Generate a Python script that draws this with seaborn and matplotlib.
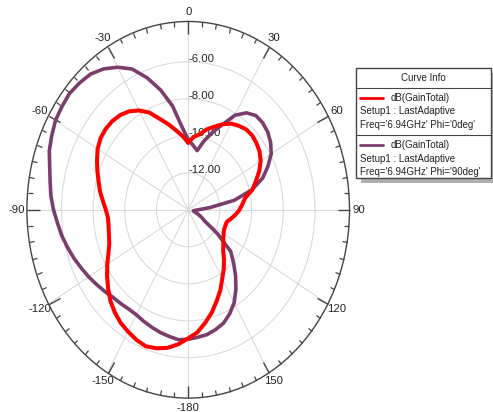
import numpy as np
import pandas as pd
import matplotlib
matplotlib.use("Agg")
import matplotlib.pyplot as plt
from matplotlib.ticker import FixedLocator
from matplotlib.patches import Rectangle
from matplotlib.lines import Line2D
import seaborn as sns

# ---------------- data ----------------
theta_deg = list(range(0, 360, 5))

gain_phi0 = [-10.37, -10.05, -9.85, -9.50, -9.22, -8.90, -8.62, -8.45, -8.32, -8.30,
             -8.38, -8.50, -8.72, -9.05, -9.45, -9.81, -10.35, -10.57, -10.76, -11.00,
             -11.25, -11.48, -11.50, -11.50, -11.42, -11.30, -11.10, -10.88, -10.48, -10.09,
             -9.70, -9.20, -8.75, -8.25, -7.80, -7.35, -7.05, -6.70, -6.42, -6.25,
             -6.15, -6.25, -6.40, -6.55, -6.78, -7.05, -7.40, -7.75, -8.10, -8.45,
             -8.70, -8.82, -8.90, -8.92, -8.80, -8.60, -8.35, -8.15, -7.90, -7.65,
             -7.40, -7.25, -7.20, -7.22, -7.32, -7.50, -7.80, -8.20, -8.77, -9.22,
             -9.65, -10.00]

gain_phi90 = [-10.20, -10.50, -10.75, -10.15, -9.55, -8.93, -8.10, -7.60, -7.35, -7.35,
              -7.45, -7.65, -7.95, -8.45, -9.00, -9.85, -11.05, -12.62, -13.37, -13.60,
              -13.67, -13.56, -13.36, -13.10, -12.82, -11.75, -10.50, -9.95, -9.35, -8.75,
              -8.20, -7.80, -7.48, -7.30, -7.15, -7.08, -7.00, -6.95, -7.05, -7.14,
              -7.25, -7.35, -7.45, -7.45, -7.38, -7.30, -7.13, -6.95, -6.75, -6.55,
              -6.33, -6.12, -5.90, -5.72, -5.50, -5.30, -5.15, -4.95, -4.67, -4.50,
              -4.33, -4.27, -4.22, -4.30, -4.42, -4.70, -5.10, -5.60, -6.40, -7.30,
              -8.30, -9.50]

ring_values = [-12, -10, -8, -6]
ring_labels = ["-12.00", "-10.00", "-8.00", "-6.00"]
angle_ticks = list(range(0, 360, 30))
angle_labels = ["0", "30", "60", "90", "120", "150", "-180", "-150", "-120", "-90", "-60", "-30"]
minor_ticks = list(range(0, 360, 5))
r_min, r_max = -14.0, -3.82

series_names = ["Phi='0deg'", "Phi='90deg'"]
series_colors = ["#ff0000", "#7b3d6c"]
legend_lines = [["dB(GainTotal)", "Setup1 : LastAdaptive", "Freq='6.94GHz' Phi='0deg'"],
                ["dB(GainTotal)", "Setup1 : LastAdaptive", "Freq='6.94GHz' Phi='90deg'"]]

# ---------------- build table ----------------
frames = []
for name, vals in zip(series_names, [gain_phi0, gain_phi90]):
    th = np.deg2rad(theta_deg + [360])
    rr = vals + [vals[0]]
    frames.append(pd.DataFrame({"theta": th, "gain": rr, "series": name}))
df = pd.concat(frames, ignore_index=True)

# ---------------- plot ----------------
sns.set_theme(style="white")
plt.rcParams["font.family"] = ["Liberation Sans", "DejaVu Sans"]

W, H = 493, 412
fig = plt.figure(figsize=(W / 100, H / 100), dpi=100)
fig.patch.set_facecolor("white")

left, right, top, bottom = 26.9, 349.5, 21.5, 398.1
ax = fig.add_axes([left / W, 1 - bottom / H, (right - left) / W, (bottom - top) / H],
                  projection="polar")
ax.set_aspect("auto")
ax.set_theta_zero_location("N")
ax.set_theta_direction(-1)

for name, col, lw, z in zip(series_names, series_colors, [2.9, 2.6], [3, 2.5]):
    sub = df[df["series"] == name]
    sns.lineplot(data=sub, x="theta", y="gain", ax=ax, sort=False, estimator=None,
                 color=col, lw=lw, legend=False, zorder=z)

ax.set_ylim(r_min, r_max)
ax.set_xlabel("")
ax.set_ylabel("")

ax.set_thetagrids(angle_ticks, labels=angle_labels, fontsize=8.2, color="#222222")
ax.set_rgrids(ring_values, labels=[""] * len(ring_values))
ax.grid(True, color="#dadada", lw=0.8)
ax.xaxis.set_minor_locator(FixedLocator(np.deg2rad(minor_ticks)))
ax.tick_params(axis="x", which="both", bottom=False, top=True, direction="in",
               color="#444444")
ax.tick_params(axis="x", which="major", length=9, width=1.0, pad=0)
ax.tick_params(axis="x", which="minor", length=3.5, width=0.9)
ax.tick_params(axis="y", length=0)
ax.spines["polar"].set_color("#444444")
ax.spines["polar"].set_linewidth(1.0)

for v, lab in zip(ring_values, ring_labels):
    ax.text(0, v, lab, ha="left", va="baseline", fontsize=8.2, color="#222222", zorder=1)

# ---------------- legend (Curve Info box) ----------------
def fx(px):
    return px / W

def fy(py):
    return 1 - py / H

lx0, lx1, ly0, ly1 = 356, 491, 68, 178
fig.add_artist(Rectangle((fx(lx0 + 5), fy(ly1 + 5)), fx(lx1 - lx0), (ly1 - ly0) / H,
                         transform=fig.transFigure, facecolor="#b0b0b0", edgecolor="none",
                         zorder=5))
fig.add_artist(Rectangle((fx(lx0), fy(ly1)), fx(lx1 - lx0), (ly1 - ly0) / H,
                         transform=fig.transFigure, facecolor="white", edgecolor="#444444",
                         lw=1.0, zorder=6))
for sep in [88, 135]:
    fig.add_artist(Line2D([fx(lx0), fx(lx1)], [fy(sep), fy(sep)], transform=fig.transFigure,
                          color="#444444", lw=0.8, zorder=7))
fig.text(fx((lx0 + lx1) / 2), fy(78), "Curve Info", ha="center", va="center",
         fontsize=7, color="#222222", zorder=8)
for k, (lines, col) in enumerate(zip(legend_lines, series_colors)):
    y0 = 98 + k * 47
    fig.add_artist(Line2D([fx(360), fx(383)], [fy(y0), fy(y0)], transform=fig.transFigure,
                          color=col, lw=2.0, zorder=8))
    fig.text(fx(391), fy(y0), lines[0], ha="left", va="center", fontsize=7,
             color="#222222", zorder=8)
    fig.text(fx(360), fy(y0 + 13.5), lines[1], ha="left", va="center", fontsize=7,
             color="#222222", zorder=8)
    fig.text(fx(360), fy(y0 + 27), lines[2], ha="left", va="center", fontsize=7,
             color="#222222", zorder=8)

fig.savefig("out.png", dpi=100, facecolor="white")
